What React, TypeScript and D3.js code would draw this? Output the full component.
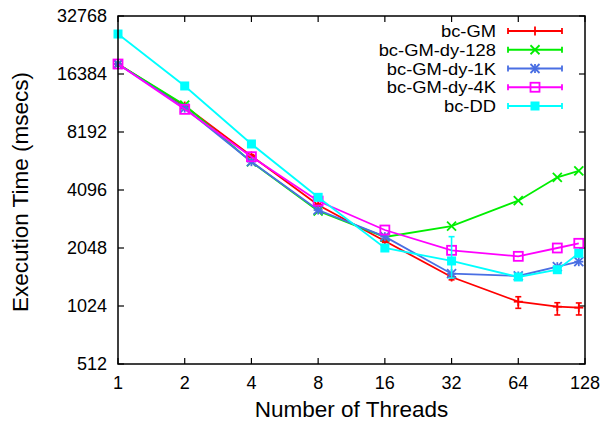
import React from "react";
import * as d3 from "d3";

const threads = [1, 2, 4, 8, 16, 32, 64, 96, 120];
const xTicks = [1, 2, 4, 8, 16, 32, 64, 128];
const yTicks = [512, 1024, 2048, 4096, 8192, 16384, 32768];

const seriesNames = ["bc-GM", "bc-GM-dy-128", "bc-GM-dy-1K", "bc-GM-dy-4K", "bc-DD"];
const gm = [18460, 11170, 6150, 3424, 2227, 1448, 1078, 1016, 1004];
const gm128 = [18460, 11310, 5725, 3187, 2337, 2663, 3606, 4768, 5141];
const gm1k = [18460, 10910, 5745, 3225, 2345, 1506, 1466, 1638, 1739];
const gm4k = [18460, 10740, 6097, 3590, 2539, 1992, 1854, 2048, 2166];
const dd = [26420, 14200, 7100, 3753, 2048, 1754, 1448, 1580, 1922];

const gmLow = [18200, 11000, 6050, 3380, 2190, 1400, 996, 920, 920];
const gmHigh = [18700, 11350, 6250, 3470, 2270, 1500, 1144, 1065, 1062];
const ddLow = [26420, 14200, 7100, 3753, 2048, 1431, 1448, 1580, 1860];
const ddHigh = [26420, 14200, 7100, 3753, 2048, 2345, 1448, 1580, 1980];

const colors = ["#ff0000", "#00ee00", "#4a6fe3", "#ff00ff", "#00ffff"];
const markers = ["plus", "cross", "star", "openSquare", "filledSquare"];

const W = 605;
const H = 422;
const left = 118;
const right = 585;
const top = 16;
const bottom = 364;

const FONT = "'Liberation Sans', Arial, Helvetica, sans-serif";

function Marker({ type, x, y, color }: { type: string; x: number; y: number; color: string }) {
  const s = 4.5;
  const sw = 1.8;
  if (type === "plus") {
    return (
      <g stroke={color} strokeWidth={sw}>
        <line x1={x - s} x2={x + s} y1={y} y2={y} />
        <line x1={x} x2={x} y1={y - s} y2={y + s} />
      </g>
    );
  }
  if (type === "cross") {
    return (
      <g stroke={color} strokeWidth={sw}>
        <line x1={x - s} x2={x + s} y1={y - s} y2={y + s} />
        <line x1={x - s} x2={x + s} y1={y + s} y2={y - s} />
      </g>
    );
  }
  if (type === "star") {
    return (
      <g stroke={color} strokeWidth={sw}>
        <line x1={x - s} x2={x + s} y1={y} y2={y} />
        <line x1={x} x2={x} y1={y - s} y2={y + s} />
        <line x1={x - s} x2={x + s} y1={y - s} y2={y + s} />
        <line x1={x - s} x2={x + s} y1={y + s} y2={y - s} />
      </g>
    );
  }
  if (type === "openSquare") {
    return <rect x={x - s} y={y - s} width={2 * s} height={2 * s} fill="none" stroke={color} strokeWidth={sw} />;
  }
  return <rect x={x - s} y={y - s} width={2 * s} height={2 * s} fill={color} stroke="none" />;
}

export default function App() {
  const x = d3.scaleLog().base(2).domain([1, 128]).range([left, right]);
  const y = d3.scaleLog().base(2).domain([512, 32768]).range([bottom, top]);
  const series = [gm, gm128, gm1k, gm4k, dd];
  const errs: (null | [number[], number[]])[] = [[gmLow, gmHigh], null, null, null, [ddLow, ddHigh]];
  const line = d3
    .line<number>()
    .x((_, i) => x(threads[i]))
    .y((d) => y(d));

  const tl = 6;
  const legendY0 = 31;
  const legendStep = 18.75;

  return (
    <svg width={W} height={H} style={{ position: "absolute", left: 0, top: 0, background: "#fff" }} fontFamily={FONT}>
      <rect x={0} y={0} width={W} height={H} fill="#fff" />
      {/* ticks */}
      {yTicks.map((t) => (
        <g key={"y" + t}>
          <line x1={left} x2={left + tl} y1={y(t)} y2={y(t)} stroke="#000" strokeWidth={1.2} />
          <line x1={right - tl} x2={right} y1={y(t)} y2={y(t)} stroke="#000" strokeWidth={1.2} />
          <text x={107} y={y(t) + 6} textAnchor="end" fontSize={18} fill="#000">
            {t}
          </text>
        </g>
      ))}
      {xTicks.map((t) => (
        <g key={"x" + t}>
          <line x1={x(t)} x2={x(t)} y1={bottom} y2={bottom - tl} stroke="#000" strokeWidth={1.2} />
          <line x1={x(t)} x2={x(t)} y1={top} y2={top + tl} stroke="#000" strokeWidth={1.2} />
          <text x={x(t)} y={389} textAnchor="middle" fontSize={18} fill="#000">
            {t}
          </text>
        </g>
      ))}
      {/* series */}
      {series.map((vals, si) => (
        <g key={"s" + si}>
          <path d={line(vals) || ""} fill="none" stroke={colors[si]} strokeWidth={1.8} />
          {errs[si] &&
            vals.map((_, i) => {
              const [lo, hi] = errs[si]!;
              if (lo[i] === hi[i]) return null;
              const px = x(threads[i]);
              return (
                <g key={"e" + i} stroke={colors[si]} strokeWidth={1.6}>
                  <line x1={px} x2={px} y1={y(lo[i])} y2={y(hi[i])} />
                  <line x1={px - 3} x2={px + 3} y1={y(lo[i])} y2={y(lo[i])} />
                  <line x1={px - 3} x2={px + 3} y1={y(hi[i])} y2={y(hi[i])} />
                </g>
              );
            })}
          {vals.map((v, i) => (
            <Marker key={"m" + i} type={markers[si]} x={x(threads[i])} y={y(v)} color={colors[si]} />
          ))}
        </g>
      ))}
      {/* legend */}
      {seriesNames.map((name, si) => {
        const ly = legendY0 + si * legendStep;
        return (
          <g key={"l" + si}>
            <g transform={`translate(496, ${ly + 6}) scale(1.12, 1)`}>
              <text x={0} y={0} textAnchor="end" fontSize={16.4} fill="#000">
                {name}
              </text>
            </g>
            <g stroke={colors[si]} strokeWidth={1.8}>
              <line x1={508} x2={562} y1={ly} y2={ly} />
              <line x1={508} x2={508} y1={ly - 3} y2={ly + 3} />
              <line x1={562} x2={562} y1={ly - 3} y2={ly + 3} />
            </g>
            <Marker type={markers[si]} x={535} y={ly} color={colors[si]} />
          </g>
        );
      })}
      {/* frame */}
      <rect x={left} y={top} width={right - left} height={bottom - top} fill="none" stroke="#000" strokeWidth={1.5} />
      {/* axis titles */}
      <text x={(left + right) / 2} y={417} textAnchor="middle" fontSize={22.5} fill="#000">
        Number of Threads
      </text>
      <text
        transform={`translate(28, 192) rotate(-90)`}
        textAnchor="middle"
        fontSize={22.5}
        fill="#000"
      >
        Execution Time (msecs)
      </text>
    </svg>
  );
}
